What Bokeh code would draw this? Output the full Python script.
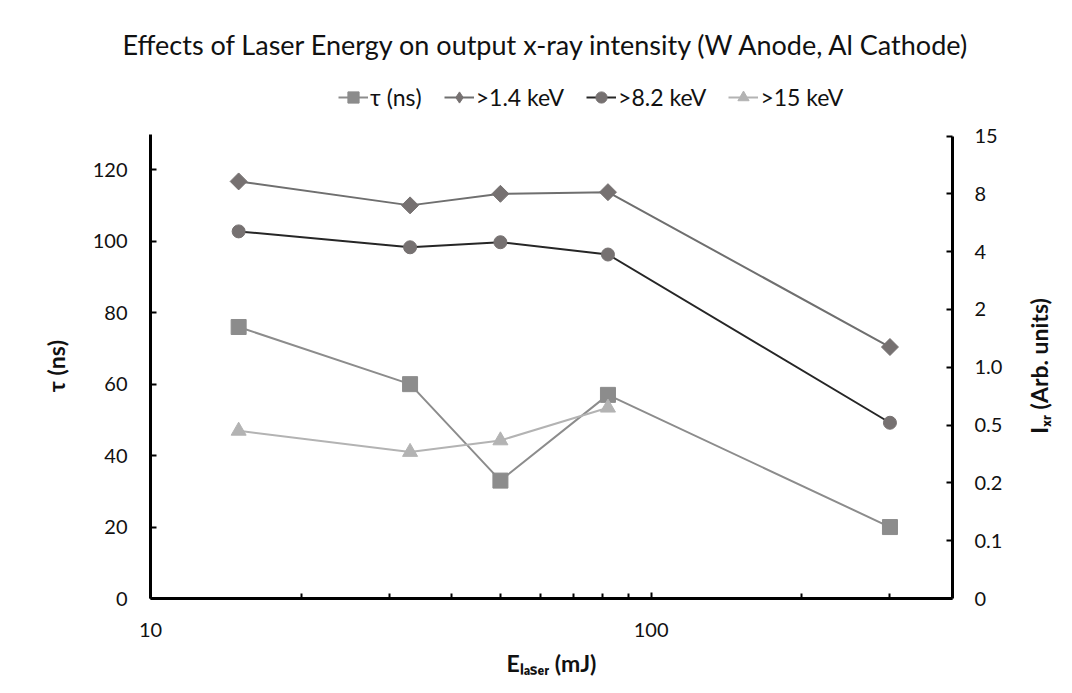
import numpy as np
from bokeh.plotting import figure
from bokeh.models import (Range1d, LinearAxis, FixedTicker, Legend, Title,
                          LegendItem, BasicTickFormatter)
from bokeh.embed import file_html
from bokeh.resources import INLINE

# ---------------- data ----------------
energy_mJ = [15, 33, 50, 82, 300]
tau_ns = [76, 60, 33, 57, 20]
i_above_1p4_keV = [9.5, 7.2, 8.0, 8.2, 1.35]
i_above_8p2_keV = [5.4, 4.3, 4.65, 3.9, 0.52]
energy_15keV_mJ = [15, 33, 50, 82]
i_above_15_keV = [0.47, 0.36, 0.42, 0.65]

x_major_ticks = [10, 100]
x_minor_ticks = [20, 30, 40, 50, 60, 70, 80, 90, 200, 300]
tau_ticks = [0, 20, 40, 60, 80, 100, 120]
intensity_tick_values = [0, 0.1, 0.2, 0.5, 1.0, 2, 4, 8, 15]
intensity_tick_labels = ["0", "0.1", "0.2", "0.5", "1.0", "2", "4", "8", "15"]

title_text = "Effects of Laser Energy on output x-ray intensity (W Anode, Al Cathode)"
series_names = ["\u03c4 (ns)", ">1.4 keV", ">8.2 keV", ">15 keV"]
x_label = "E\u2097\u2090\u209b\u2091\u1d63 (mJ)"
y_label = "\u03c4 (ns)"
y2_label = "I\u2093\u1d63 (Arb. units)"

# the right axis is a stepped (label-indexed) scale
tick_index = np.arange(len(intensity_tick_values))
def to_axis(vals):
    return list(np.interp(vals, intensity_tick_values, tick_index))

FONT = "Lato"
TXT = "#111111"

# frame spans from y=80 (so the legend sits inside it) to y=598;
# axis bounds stop the axis lines at 130 (left) and 15 (right)
FRAME_TOP, FRAME_BOTTOM = 80, 598
TAU_PX = 3.5725          # pixels per ns on the left axis
IDX_PX = 57.8125         # pixels per step on the right axis
TAU_BOUNDS = (0, 130)
IDX_BOUNDS = (0, 8)
FRAME_H = FRAME_BOTTOM - FRAME_TOP

p = figure(width=1072, height=693, x_axis_type="log", title=None,
           x_range=Range1d(10, 400), y_range=Range1d(0, FRAME_H / TAU_PX),
           output_backend="svg", toolbar_location=None,
           min_border_left=150, min_border_right=120,
           min_border_top=FRAME_TOP, min_border_bottom=95)
p.extra_y_ranges = {"intensity": Range1d(0, FRAME_H / IDX_PX)}
p.grid.visible = False
p.outline_line_color = None
p.background_fill_color = "white"
p.border_fill_color = "white"

right_axis = LinearAxis(y_range_name="intensity")
p.add_layout(right_axis, "right")

def style_axis(ax):
    ax.axis_line_width = 3
    ax.axis_line_color = "black"
    ax.major_tick_in = 6
    ax.major_tick_out = 0
    ax.minor_tick_in = 5
    ax.minor_tick_out = 0
    ax.major_tick_line_width = 2
    ax.minor_tick_line_width = 2
    ax.major_tick_line_color = "black"
    ax.minor_tick_line_color = "black"
    ax.major_label_text_font = FONT
    ax.major_label_text_font_size = "20px"
    ax.major_label_text_color = TXT
    ax.major_label_standoff = 23
    ax.axis_label_text_font = FONT
    ax.axis_label_text_font_size = "23px"
    ax.axis_label_text_font_style = "bold"
    ax.axis_label_text_color = TXT

xa = p.xaxis[0]
xa.ticker = FixedTicker(ticks=x_major_ticks, minor_ticks=x_minor_ticks)
xa.formatter = BasicTickFormatter()
style_axis(xa)
xa.major_label_standoff = 24
xa.axis_label = x_label
xa.axis_label_standoff = 9

ya = p.yaxis[0]
ya.ticker = FixedTicker(ticks=tau_ticks, minor_ticks=[])
style_axis(ya)
ya.bounds = TAU_BOUNDS

right_axis.ticker = FixedTicker(ticks=[float(i) for i in tick_index], minor_ticks=[])
right_axis.major_label_overrides = {float(i): lbl for i, lbl in zip(tick_index, intensity_tick_labels)}
style_axis(right_axis)
right_axis.major_label_standoff = 22
right_axis.bounds = IDX_BOUNDS

# axis titles for the vertical axes: one-tick label axes placed beside the axes
def title_axis(text, pos, orient, standoff, range_name="default"):
    return LinearAxis(y_range_name=range_name,
                      ticker=FixedTicker(ticks=[float(pos)], minor_ticks=[]),
                      major_label_overrides={float(pos): text},
                      major_label_orientation=orient,
                      major_label_standoff=standoff,
                      major_label_text_font=FONT, major_label_text_font_size="23px",
                      major_label_text_font_style="bold", major_label_text_color=TXT,
                      axis_line_color=None, major_tick_line_color=None,
                      minor_tick_line_color=None, major_tick_in=0, major_tick_out=0,
                      minor_tick_in=0, minor_tick_out=0)

p.add_layout(title_axis(y_label, np.mean(TAU_BOUNDS), "vertical", 19), "left")
# right title reads bottom-to-top and starts at its tick
RIGHT_TITLE_START = np.mean(IDX_BOUNDS) - 1.15
p.add_layout(title_axis(y2_label, RIGHT_TITLE_START, np.pi / 2, 33, "intensity"), "right")

# ---------------- series ----------------
c_tau = "#8c8c8c"
c_mark = "#767171"
c_14 = "#6f6f6f"
c_82 = "#262626"
c_15 = "#b3b3b3"

l1 = p.line(energy_mJ, tau_ns, line_color=c_tau, line_width=2)
s1 = p.scatter(energy_mJ, tau_ns, marker="square", size=15,
               fill_color=c_tau, line_color=c_tau)

y14 = to_axis(i_above_1p4_keV)
l2 = p.line(energy_mJ, y14, line_color=c_14, line_width=2, y_range_name="intensity")
# diamond marker (also used as the legend swatch), covered by the square-cut diamond
s2_key = p.scatter(energy_mJ, y14, marker="diamond", size=12,
                   fill_color=c_mark, line_color=c_mark, y_range_name="intensity")
s2 = p.scatter(energy_mJ, y14, marker="square", angle=np.pi / 4, size=12,
               fill_color=c_mark, line_color=c_mark, y_range_name="intensity")

y82 = to_axis(i_above_8p2_keV)
l3 = p.line(energy_mJ, y82, line_color=c_82, line_width=2, y_range_name="intensity")
s3 = p.scatter(energy_mJ, y82, marker="circle", size=13,
               fill_color=c_mark, line_color=c_mark, y_range_name="intensity")

y15 = to_axis(i_above_15_keV)
l4 = p.line(energy_15keV_mJ, y15, line_color=c_15, line_width=2, y_range_name="intensity")
s4 = p.scatter(energy_15keV_mJ, y15, marker="triangle", size=15,
               fill_color=c_15, line_color=c_15, y_range_name="intensity")

legend = Legend(items=[
    LegendItem(label=series_names[0], renderers=[l1, s1]),
    LegendItem(label=series_names[1], renderers=[l2, s2_key]),
    LegendItem(label=series_names[2], renderers=[l3, s3]),
    LegendItem(label=series_names[3], renderers=[l4, s4]),
], orientation="horizontal", location=(188, FRAME_BOTTOM - 111),
    border_line_color=None, background_fill_alpha=0,
    label_text_font=FONT, label_text_font_size="23px", label_text_color=TXT,
    glyph_width=30, glyph_height=28, label_standoff=2, spacing=22,
    padding=0, margin=0)
p.add_layout(legend)

p.add_layout(Title(text=title_text, align="left", offset=-28, standoff=40,
                   text_font=FONT, text_font_size="27px", text_font_style="normal",
                   text_color=TXT), "above")

open("out.html", "w").write(file_html(p, INLINE))
